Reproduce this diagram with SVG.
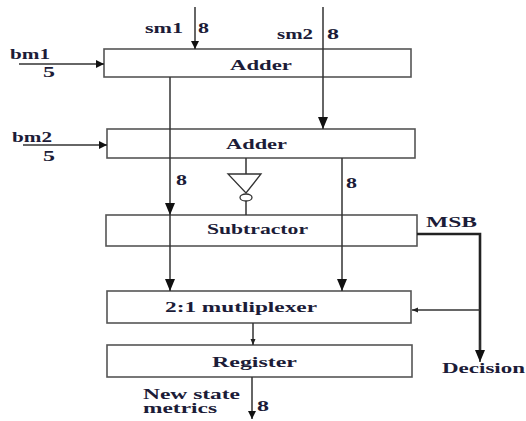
<svg xmlns="http://www.w3.org/2000/svg" width="526" height="421" viewBox="0 0 526 421">
<style>
.box{fill:none;stroke:#555;stroke-width:1.6}
.ln{fill:none;stroke:#333;stroke-width:1.5}
.thick{fill:none;stroke:#222;stroke-width:2.6}
text{font-family:"Liberation Serif","Times New Roman",serif;font-weight:bold;font-size:14px;fill:#1c1c38}
.c{text-anchor:middle}
</style>
<defs>
<marker id="big" markerUnits="userSpaceOnUse" markerWidth="12" markerHeight="10" refX="12" refY="5" orient="auto"><path d="M0,0 L12,5 L0,10 z" fill="#111"/></marker>
<marker id="med" markerUnits="userSpaceOnUse" markerWidth="8" markerHeight="8" refX="8" refY="4" orient="auto"><path d="M0,0 L8,4 L0,8 z" fill="#111"/></marker>
<marker id="small" markerUnits="userSpaceOnUse" markerWidth="6" markerHeight="6" refX="6" refY="3" orient="auto"><path d="M0,0.5 L6,3 L0,5.5 z" fill="#222"/></marker>
</defs>

<g id="adder1"><rect class="box" x="104" y="49" width="307" height="28"/><text x="230" y="70" textLength="62" lengthAdjust="spacingAndGlyphs">Adder</text></g>
<g id="adder2"><rect class="box" x="107" y="129" width="308" height="29"/><text x="226" y="149" textLength="61" lengthAdjust="spacingAndGlyphs">Adder</text></g>
<g id="subtractor"><rect class="box" x="106" y="215" width="311" height="31"/><text x="207" y="234" textLength="101" lengthAdjust="spacingAndGlyphs">Subtractor</text></g>
<g id="mux"><rect class="box" x="107" y="291" width="304" height="32"/><text x="165" y="312" textLength="152" lengthAdjust="spacingAndGlyphs">2:1 mutliplexer</text></g>
<g id="register"><rect class="box" x="107" y="345" width="305" height="32"/><text x="212" y="367" textLength="85" lengthAdjust="spacingAndGlyphs">Register</text></g>

<g id="inverter">
<line class="ln" x1="246" y1="158" x2="246" y2="174"/>
<polygon points="228,174 261,174 246,193" fill="none" stroke="#333" stroke-width="1.3"/>
<ellipse cx="246" cy="197.5" rx="6" ry="3.5" fill="none" stroke="#333" stroke-width="1.3"/>
<line class="ln" x1="246" y1="201" x2="246" y2="215"/>
</g>

<g id="connectors">
<line class="ln" x1="195" y1="7" x2="195" y2="49" marker-end="url(#med)"/>
<line class="ln" x1="323" y1="7" x2="323" y2="129" marker-end="url(#big)"/>
<line class="ln" x1="19" y1="64" x2="104" y2="64" marker-end="url(#med)"/>
<line class="ln" x1="23" y1="145" x2="107" y2="145" marker-end="url(#med)"/>
<line class="ln" x1="170" y1="77" x2="170" y2="215" marker-end="url(#big)"/>
<line class="ln" x1="170" y1="215" x2="170" y2="291" marker-end="url(#big)"/>
<line class="ln" x1="342" y1="158" x2="342" y2="291" marker-end="url(#big)"/>
<line class="ln" x1="253" y1="323" x2="253" y2="345" marker-end="url(#small)"/>
<line class="ln" x1="252" y1="377" x2="252" y2="419" marker-end="url(#med)"/>
<polyline class="thick" points="417,234 480,234 480,352"/>
<line class="ln" x1="480" y1="340" x2="480" y2="362" marker-end="url(#big)"/>
<line class="ln" x1="480" y1="310" x2="412" y2="310" marker-end="url(#small)"/>
</g>

<g id="labels">
<text x="145" y="33" textLength="38" lengthAdjust="spacingAndGlyphs">sm1</text>
<text x="198" y="33" textLength="11" lengthAdjust="spacingAndGlyphs">8</text>
<text x="277" y="39" textLength="36" lengthAdjust="spacingAndGlyphs">sm2</text>
<text x="327" y="39" textLength="12" lengthAdjust="spacingAndGlyphs">8</text>
<text x="10" y="59" textLength="40" lengthAdjust="spacingAndGlyphs">bm1</text>
<text x="43" y="77" textLength="12" lengthAdjust="spacingAndGlyphs">5</text>
<text x="12" y="142" textLength="40" lengthAdjust="spacingAndGlyphs">bm2</text>
<text x="43" y="161" textLength="12" lengthAdjust="spacingAndGlyphs">5</text>
<text x="176" y="185" textLength="11" lengthAdjust="spacingAndGlyphs">8</text>
<text x="346" y="188" textLength="11" lengthAdjust="spacingAndGlyphs">8</text>
<text x="426" y="227" textLength="51" lengthAdjust="spacingAndGlyphs">MSB</text>
<text x="442" y="373" textLength="83" lengthAdjust="spacingAndGlyphs">Decision</text>
<text x="143" y="399" textLength="97" lengthAdjust="spacingAndGlyphs">New state</text>
<text x="143" y="413" textLength="74" lengthAdjust="spacingAndGlyphs">metrics</text>
<text x="257" y="411" textLength="12" lengthAdjust="spacingAndGlyphs">8</text>
</g>
</svg>
